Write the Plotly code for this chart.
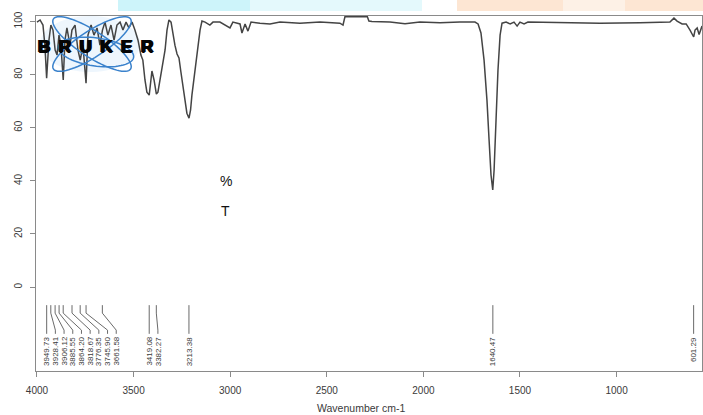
import numpy as np
import plotly.graph_objects as go

# FTIR transmission spectrum (wavenumber in cm-1, transmittance in %)
wavenumber = [
    4000, 3984, 3969, 3959, 3950, 3938, 3928, 3917, 3906, 3896, 3886, 3876,
    3864, 3855, 3845, 3829, 3819, 3803, 3788, 3776, 3762, 3746, 3736, 3720,
    3705, 3689, 3674, 3661, 3648, 3633, 3617, 3601, 3586, 3570, 3555, 3539,
    3524, 3508, 3493, 3477, 3462, 3452, 3441, 3431, 3419, 3410, 3405, 3394,
    3382, 3374, 3363, 3348, 3337, 3327, 3317, 3306, 3296, 3286, 3275, 3265,
    3255, 3244, 3234, 3224, 3213, 3205, 3198, 3188, 3177, 3167, 3156, 3146,
    3130, 3105, 3089, 3053, 3022, 3001, 2986, 2949, 2939, 2923, 2908, 2892,
    2846, 2794, 2742, 2639, 2535, 2432, 2416, 2406, 2350, 2290, 2282, 2266,
    2173, 2095, 2018, 1914, 1811, 1733, 1717, 1702, 1686, 1671, 1660, 1650,
    1641, 1634, 1624, 1614, 1603, 1593, 1572, 1551, 1531, 1515, 1500, 1479,
    1459, 1293, 1086, 879, 724, 703, 687, 661, 640, 620, 601, 594, 583, 573,
    562, 558,
]
transmittance = [
    99.8, 100.6, 98.7, 91.1, 78.7, 93.0, 98.7, 96.8, 89.3, 87.4, 94.9, 91.1,
    78.0, 93.0, 97.6, 91.1, 96.8, 98.7, 89.3, 85.5, 91.1, 76.8, 94.9, 98.7,
    94.9, 97.6, 91.1, 96.8, 99.8, 94.9, 98.7, 93.0, 98.7, 99.8, 96.8, 99.8,
    97.6, 99.8, 96.8, 93.0, 87.4, 85.5, 78.0, 73.4, 72.3, 78.0, 81.4, 78.0,
    72.7, 73.4, 78.0, 84.0, 89.3, 96.8, 100.6, 99.8, 94.9, 91.1, 87.8, 86.3,
    81.0, 75.7, 70.4, 65.5, 63.6, 66.7, 72.3, 78.0, 85.5, 90.4, 96.8, 100.2,
    99.8, 98.7, 99.8, 99.8, 98.3, 97.6, 99.8, 99.1, 95.7, 99.1, 96.4, 99.8,
    99.4, 99.1, 99.8, 99.4, 99.8, 99.4, 98.7, 101.8, 101.8, 101.8, 100.2, 100.0,
    99.8, 99.2, 99.8, 99.6, 99.8, 99.8, 99.1, 95.7, 85.5, 70.4, 55.4, 42.2,
    36.6, 44.1, 62.9, 81.7, 94.9, 99.4, 99.8, 99.1, 99.8, 98.3, 99.8, 99.1,
    99.8, 99.6, 99.4, 99.6, 99.8, 101.3, 100.2, 99.1, 99.1, 96.8, 94.2, 96.8,
    97.6, 95.1, 97.6, 98.3,
]

# Picked peaks (cm-1)
peak_positions = [
    3949.73, 3928.41, 3906.12, 3885.55, 3864.20, 3818.67, 3776.35, 3745.90,
    3661.58, 3419.08, 3382.27, 3213.38, 1640.47, 601.29,
]

x_ticks = [4000, 3500, 3000, 2500, 2000, 1500, 1000]
y_ticks = [0, 20, 40, 60, 80, 100]

X_RANGE = [4005, 558]
Y_RANGE = [-31.6, 102.1]
W, H = 703, 415
ML, MR, MT, MB = 36, 1, 16, 44
PW, PH = W - ML - MR, H - MT - MB

INK = "#3a3a3a"
AXIS = "#8a8a8a"

fig = go.Figure()

fig.add_trace(go.Scatter(
    x=wavenumber, y=transmittance, mode="lines",
    line=dict(color="#444444", width=1.5), hoverinfo="skip",
))

# Peak labels: spread the label columns so they never overlap,
# then connect each label to its peak with a bent leader line.
GAP = 45.0
label_x = []
for p in peak_positions:
    if label_x and label_x[-1] - p < GAP:
        label_x.append(label_x[-1] - GAP)
    else:
        label_x.append(p)

lx, ly = [], []
for p, q in zip(peak_positions, label_x):
    lx += [p, p, q, q, None]
    ly += [-6.8, -9.8, -16.2, -17.6, None]
fig.add_trace(go.Scatter(
    x=lx, y=ly, mode="lines", line=dict(color="#6a6a6a", width=1),
    hoverinfo="skip",
))

annotations = []
for p, q in zip(peak_positions, label_x):
    annotations.append(dict(
        x=q, y=-18.0, xref="x", yref="y", text=f"{p:.2f}", showarrow=False,
        textangle=-90, xanchor="center", yanchor="top",
        font=dict(family="Liberation Sans, Arial", size=8, color=INK),
    ))

# Axis title
annotations.append(dict(
    x=(361 - ML) / PW, y=(H - MB - 408) / PH, xref="paper", yref="paper",
    text="Wavenumber cm-1", showarrow=False, xanchor="center", yanchor="middle",
    font=dict(family="Liberation Sans, Arial", size=10.5, color=INK),
))

# Loose "%" / "T" text inside the plot
for txt, yy in (("%", 39.9), ("T", 28.6)):
    annotations.append(dict(
        x=3022, y=yy, xref="x", yref="y", text=txt, showarrow=False,
        xanchor="center", yanchor="middle",
        font=dict(family="Liberation Sans, Arial", size=14, color="#111"),
    ))

# Logo lettering (heavy block letters)
annotations.append(dict(
    x=(95 - ML) / PW, y=(H - MB - 46) / PH, xref="paper", yref="paper",
    text="B\u2002R\u2002U\u2002K\u2002E\u2002R", showarrow=False,
    xanchor="center", yanchor="middle",
    font=dict(family="Liberation Sans, Arial", size=17, color="#050505",
              weight="bold",
              shadow="1px 0 0 #050505, -1px 0 0 #050505, 0 1px 0 #050505"),
))


def px_to_paper(px, py):
    return (px - ML) / PW, (H - MB - py) / PH


def ellipse_path(cx, cy, a, b, ang_deg, n=72):
    t = np.linspace(0, 2 * np.pi, n)
    ang = np.radians(ang_deg)
    xs = cx + a * np.cos(t) * np.cos(ang) - b * np.sin(t) * np.sin(ang)
    ys = cy + a * np.cos(t) * np.sin(ang) + b * np.sin(t) * np.cos(ang)
    pts = [px_to_paper(x, y) for x, y in zip(xs, ys)]
    return "M " + " L ".join(f"{x:.4f},{y:.4f}" for x, y in pts) + " Z"


shapes = []
# faint tinted bands along the top edge
bands = [
    (118, 250, "#cdf4fa"), (250, 422, "#e4f9fc"),
    (457, 563, "#fde6d3"), (563, 625, "#fdf1e6"), (625, 703, "#fde6d3"),
]
for x0, x1, c in bands:
    shapes.append(dict(
        type="rect", xref="paper", yref="paper", layer="below",
        x0=(x0 - ML) / PW, x1=(x1 - ML) / PW,
        y0=(H - MB - 11) / PH, y1=(H - MB) / PH + 0.01,
        fillcolor=c, line=dict(width=0),
    ))

# logo tint and orbits
shapes.append(dict(
    type="path", xref="paper", yref="paper", layer="below",
    path=ellipse_path(90, 44, 50, 28, 0), fillcolor="rgba(205,228,250,0.35)",
    line=dict(width=0),
))
for cx, cy, a, b, ang in ((92, 44, 46, 13, 33), (92, 44, 46, 13, -33),
                          (96, 52, 38, 14, 8)):
    shapes.append(dict(
        type="path", xref="paper", yref="paper",
        path=ellipse_path(cx, cy, a, b, ang),
        line=dict(color="#3a82cc", width=1.5),
    ))

font_ticks = dict(family="Liberation Sans, Arial", size=10, color=INK)

fig.update_layout(
    width=W, height=H,
    margin=dict(l=ML, r=MR, t=MT, b=MB, pad=0),
    plot_bgcolor="white", paper_bgcolor="white",
    showlegend=False,
    annotations=annotations,
    shapes=shapes,
    xaxis=dict(
        range=X_RANGE, tickmode="array", tickvals=x_ticks,
        ticktext=[str(v) for v in x_ticks],
        showgrid=False, zeroline=False,
        showline=True, mirror=True, linecolor=AXIS, linewidth=1.2,
        ticks="outside", ticklen=5, tickcolor=AXIS, tickwidth=1,
        ticklabelstandoff=5, tickfont=font_ticks,
    ),
    yaxis=dict(
        range=Y_RANGE, tickmode="array", tickvals=y_ticks,
        ticktext=[str(v) for v in y_ticks],
        showgrid=False, zeroline=False,
        showline=True, mirror=True, linecolor=AXIS, linewidth=1.2,
        ticks="outside", ticklen=5, tickcolor=AXIS, tickwidth=1,
        tickangle=-90, ticklabelstandoff=4, tickfont=font_ticks,
    ),
)

fig.write_html("out.html")
